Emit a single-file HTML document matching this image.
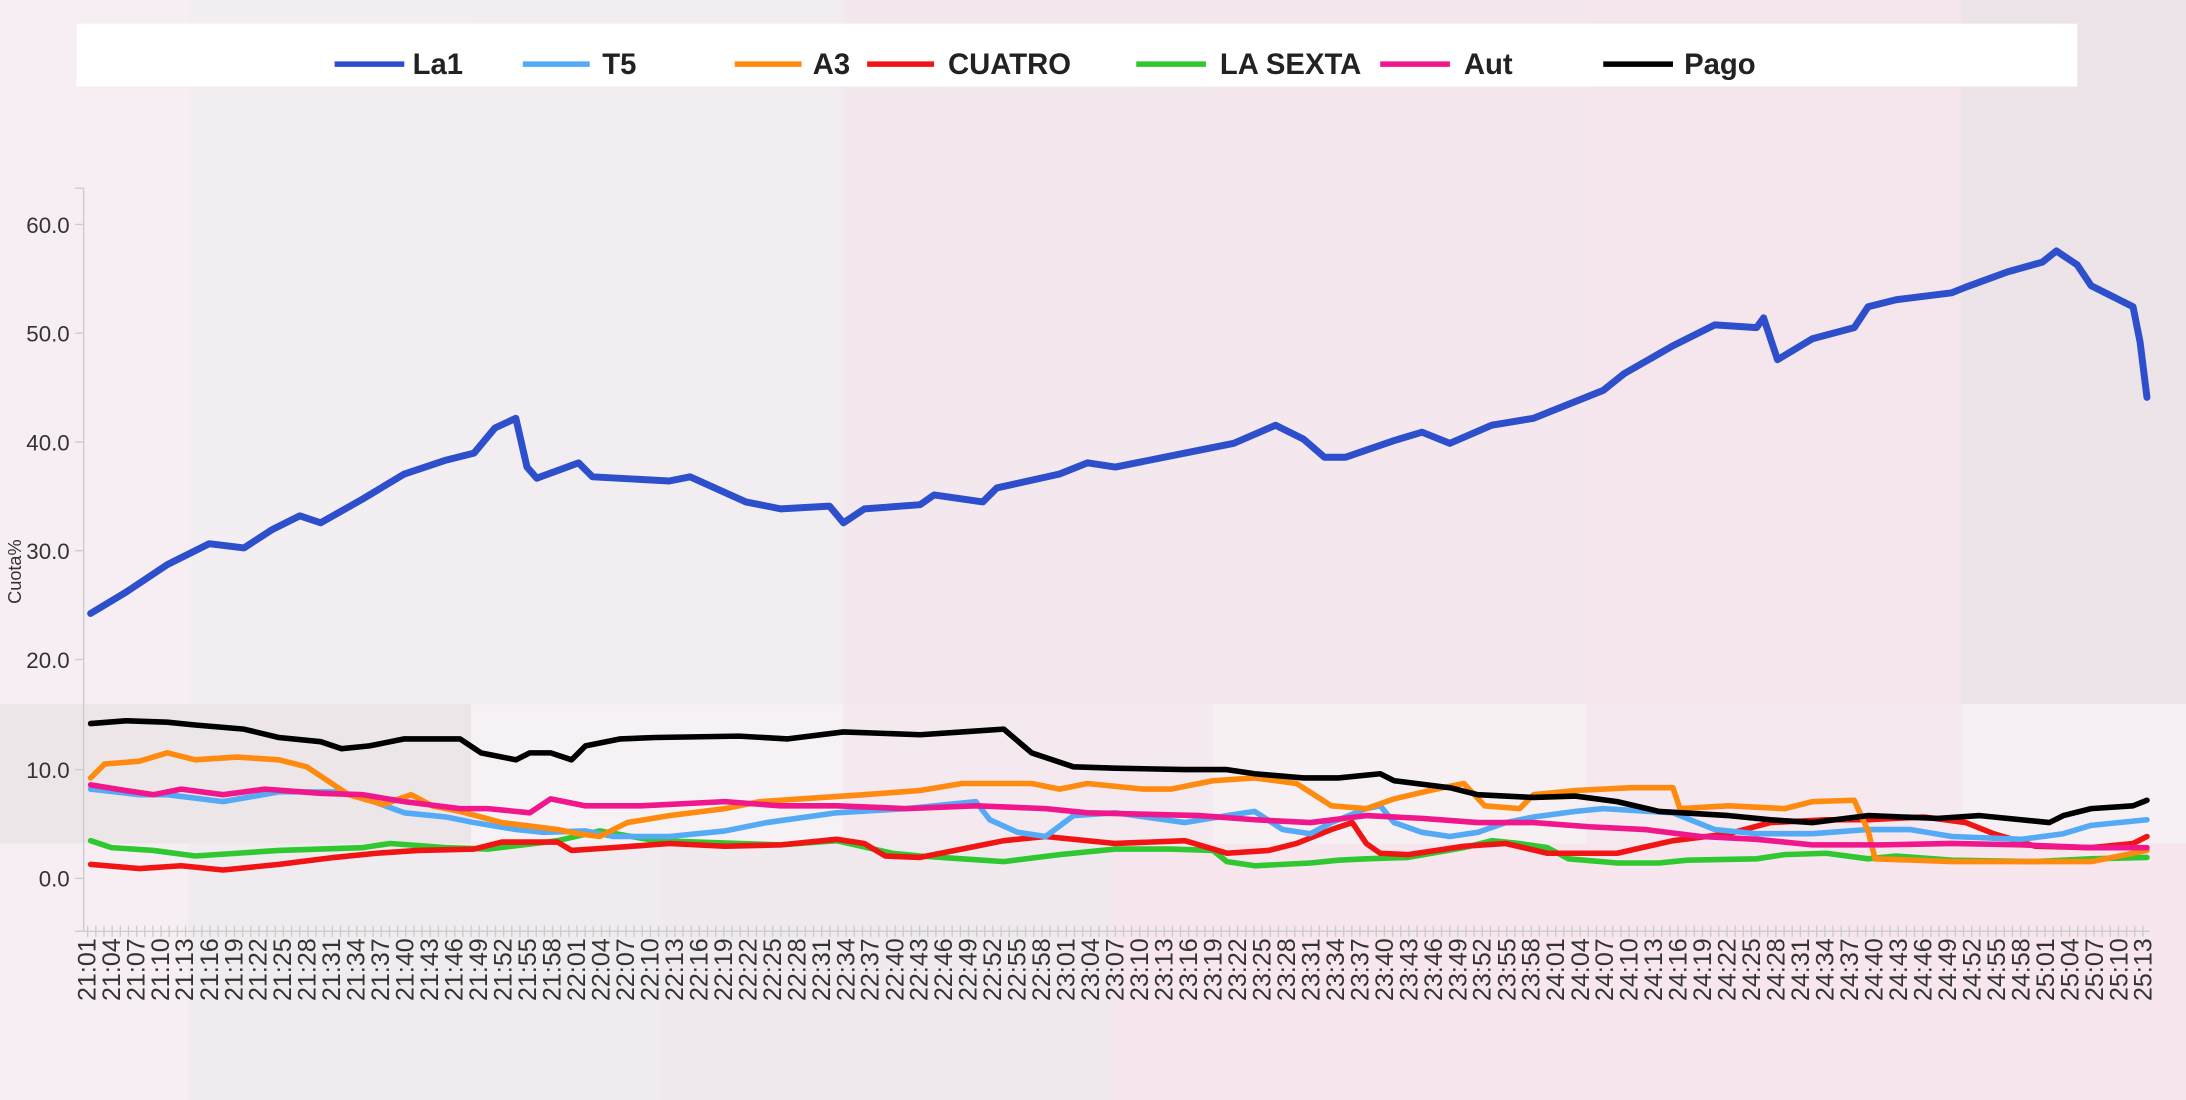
<!DOCTYPE html>
<html><head><meta charset="utf-8"><style>
html,body{margin:0;padding:0;width:2186px;height:1100px;overflow:hidden;background:#f4edf1}
svg{display:block}
text{font-family:"Liberation Sans",sans-serif}
</style></head><body>
<svg width="2186" height="1100" viewBox="0 0 1568 789" preserveAspectRatio="none" xmlns="http://www.w3.org/2000/svg">
<rect x="0" y="0" width="1568" height="789" fill="#f4edf1"/>
<rect x="0" y="0" width="135" height="789" fill="#f7eef3"/>
<rect x="135" y="0" width="203" height="505" fill="#f3eef2"/>
<rect x="338" y="0" width="267" height="505" fill="#f2edf1"/>
<rect x="605" y="0" width="265" height="505" fill="#f3e8ee"/>
<rect x="870" y="0" width="268" height="505" fill="#f5e7ee"/>
<rect x="1138" y="0" width="269" height="505" fill="#f5e6ed"/>
<rect x="1407" y="0" width="161" height="505" fill="#ede4ea"/>
<rect x="0" y="505" width="338" height="100" fill="#ece6e9"/>
<rect x="338" y="505" width="267" height="100" fill="#f6f1f4"/>
<rect x="605" y="505" width="265" height="100" fill="#f3e9ee"/>
<rect x="870" y="505" width="268" height="100" fill="#f7f0f3"/>
<rect x="1138" y="505" width="269" height="100" fill="#f5e8ee"/>
<rect x="1407" y="505" width="161" height="100" fill="#f6f0f4"/>
<rect x="135" y="605" width="338" height="184" fill="#f0ebee"/>
<rect x="473" y="605" width="325" height="184" fill="#f0eaee"/>
<rect x="798" y="605" width="770" height="184" fill="#f7e6ee"/>

<!-- legend -->
<rect x="55" y="17" width="1435" height="45" fill="#ffffff"/>
<g font-size="21" font-weight="bold" fill="#222">
<line x1="240" y1="46" x2="290" y2="46" stroke="#2d4fcc" stroke-width="4"/><text x="296" y="53">La1</text>
<line x1="375" y1="46" x2="423" y2="46" stroke="#55aaf5" stroke-width="4"/><text x="432" y="53">T5</text>
<line x1="527" y1="46" x2="575" y2="46" stroke="#ff8a10" stroke-width="4"/><text x="583" y="53">A3</text>
<line x1="622" y1="46" x2="670" y2="46" stroke="#f01414" stroke-width="4"/><text x="680" y="53">CUATRO</text>
<line x1="815" y1="46" x2="865" y2="46" stroke="#30c830" stroke-width="4"/><text x="875" y="53">LA SEXTA</text>
<line x1="990" y1="46" x2="1040" y2="46" stroke="#f0168c" stroke-width="4"/><text x="1050" y="53">Aut</text>
<line x1="1150" y1="46" x2="1200" y2="46" stroke="#000" stroke-width="4"/><text x="1208" y="53">Pago</text>
</g>

<!-- axes -->
<line x1="60" y1="135" x2="60" y2="668" stroke="#ccc" stroke-width="1"/>
<line x1="60" y1="668" x2="1542" y2="668" stroke="#ccc" stroke-width="1"/>
<g stroke="#ccc"><line x1="54" y1="135" x2="60" y2="135"/><line x1="54" y1="161" x2="60" y2="161"/><line x1="54" y1="239" x2="60" y2="239"/><line x1="54" y1="317" x2="60" y2="317"/><line x1="54" y1="395" x2="60" y2="395"/><line x1="54" y1="473" x2="60" y2="473"/><line x1="54" y1="552" x2="60" y2="552"/><line x1="54" y1="630" x2="60" y2="630"/><line x1="54" y1="668" x2="60" y2="668"/></g>
<g font-size="16" fill="#333" text-anchor="end">
<text x="50" y="167">60.0</text><text x="50" y="245">50.0</text><text x="50" y="323">40.0</text><text x="50" y="401">30.0</text><text x="50" y="479">20.0</text><text x="50" y="558">10.0</text><text x="50" y="636">0.0</text>
</g>
<text transform="translate(15,410) rotate(-90)" font-size="13" fill="#333" text-anchor="middle">Cuota%</text>

<g stroke="#ccc" stroke-dasharray="1,4.85" ><line x1="62.4" y1="668" x2="1540" y2="668" stroke-width="8"/></g>

<g font-size="18" fill="#333" text-anchor="end">
<text transform="translate(68.4,673) rotate(-90)">21:01</text>
<text transform="translate(86.0,673) rotate(-90)">21:04</text>
<text transform="translate(103.5,673) rotate(-90)">21:07</text>
<text transform="translate(121.1,673) rotate(-90)">21:10</text>
<text transform="translate(138.6,673) rotate(-90)">21:13</text>
<text transform="translate(156.2,673) rotate(-90)">21:16</text>
<text transform="translate(173.8,673) rotate(-90)">21:19</text>
<text transform="translate(191.3,673) rotate(-90)">21:22</text>
<text transform="translate(208.9,673) rotate(-90)">21:25</text>
<text transform="translate(226.4,673) rotate(-90)">21:28</text>
<text transform="translate(244.0,673) rotate(-90)">21:31</text>
<text transform="translate(261.6,673) rotate(-90)">21:34</text>
<text transform="translate(279.1,673) rotate(-90)">21:37</text>
<text transform="translate(296.7,673) rotate(-90)">21:40</text>
<text transform="translate(314.2,673) rotate(-90)">21:43</text>
<text transform="translate(331.8,673) rotate(-90)">21:46</text>
<text transform="translate(349.4,673) rotate(-90)">21:49</text>
<text transform="translate(366.9,673) rotate(-90)">21:52</text>
<text transform="translate(384.5,673) rotate(-90)">21:55</text>
<text transform="translate(402.0,673) rotate(-90)">21:58</text>
<text transform="translate(419.6,673) rotate(-90)">22:01</text>
<text transform="translate(437.2,673) rotate(-90)">22:04</text>
<text transform="translate(454.7,673) rotate(-90)">22:07</text>
<text transform="translate(472.3,673) rotate(-90)">22:10</text>
<text transform="translate(489.8,673) rotate(-90)">22:13</text>
<text transform="translate(507.4,673) rotate(-90)">22:16</text>
<text transform="translate(525.0,673) rotate(-90)">22:19</text>
<text transform="translate(542.5,673) rotate(-90)">22:22</text>
<text transform="translate(560.1,673) rotate(-90)">22:25</text>
<text transform="translate(577.6,673) rotate(-90)">22:28</text>
<text transform="translate(595.2,673) rotate(-90)">22:31</text>
<text transform="translate(612.8,673) rotate(-90)">22:34</text>
<text transform="translate(630.3,673) rotate(-90)">22:37</text>
<text transform="translate(647.9,673) rotate(-90)">22:40</text>
<text transform="translate(665.4,673) rotate(-90)">22:43</text>
<text transform="translate(683.0,673) rotate(-90)">22:46</text>
<text transform="translate(700.6,673) rotate(-90)">22:49</text>
<text transform="translate(718.1,673) rotate(-90)">22:52</text>
<text transform="translate(735.7,673) rotate(-90)">22:55</text>
<text transform="translate(753.2,673) rotate(-90)">22:58</text>
<text transform="translate(770.8,673) rotate(-90)">23:01</text>
<text transform="translate(788.4,673) rotate(-90)">23:04</text>
<text transform="translate(805.9,673) rotate(-90)">23:07</text>
<text transform="translate(823.5,673) rotate(-90)">23:10</text>
<text transform="translate(841.0,673) rotate(-90)">23:13</text>
<text transform="translate(858.6,673) rotate(-90)">23:16</text>
<text transform="translate(876.2,673) rotate(-90)">23:19</text>
<text transform="translate(893.7,673) rotate(-90)">23:22</text>
<text transform="translate(911.3,673) rotate(-90)">23:25</text>
<text transform="translate(928.8,673) rotate(-90)">23:28</text>
<text transform="translate(946.4,673) rotate(-90)">23:31</text>
<text transform="translate(964.0,673) rotate(-90)">23:34</text>
<text transform="translate(981.5,673) rotate(-90)">23:37</text>
<text transform="translate(999.1,673) rotate(-90)">23:40</text>
<text transform="translate(1016.6,673) rotate(-90)">23:43</text>
<text transform="translate(1034.2,673) rotate(-90)">23:46</text>
<text transform="translate(1051.8,673) rotate(-90)">23:49</text>
<text transform="translate(1069.3,673) rotate(-90)">23:52</text>
<text transform="translate(1086.9,673) rotate(-90)">23:55</text>
<text transform="translate(1104.4,673) rotate(-90)">23:58</text>
<text transform="translate(1122.0,673) rotate(-90)">24:01</text>
<text transform="translate(1139.6,673) rotate(-90)">24:04</text>
<text transform="translate(1157.1,673) rotate(-90)">24:07</text>
<text transform="translate(1174.7,673) rotate(-90)">24:10</text>
<text transform="translate(1192.2,673) rotate(-90)">24:13</text>
<text transform="translate(1209.8,673) rotate(-90)">24:16</text>
<text transform="translate(1227.4,673) rotate(-90)">24:19</text>
<text transform="translate(1244.9,673) rotate(-90)">24:22</text>
<text transform="translate(1262.5,673) rotate(-90)">24:25</text>
<text transform="translate(1280.0,673) rotate(-90)">24:28</text>
<text transform="translate(1297.6,673) rotate(-90)">24:31</text>
<text transform="translate(1315.2,673) rotate(-90)">24:34</text>
<text transform="translate(1332.7,673) rotate(-90)">24:37</text>
<text transform="translate(1350.3,673) rotate(-90)">24:40</text>
<text transform="translate(1367.8,673) rotate(-90)">24:43</text>
<text transform="translate(1385.4,673) rotate(-90)">24:46</text>
<text transform="translate(1403.0,673) rotate(-90)">24:49</text>
<text transform="translate(1420.5,673) rotate(-90)">24:52</text>
<text transform="translate(1438.1,673) rotate(-90)">24:55</text>
<text transform="translate(1455.6,673) rotate(-90)">24:58</text>
<text transform="translate(1473.2,673) rotate(-90)">25:01</text>
<text transform="translate(1490.8,673) rotate(-90)">25:04</text>
<text transform="translate(1508.3,673) rotate(-90)">25:07</text>
<text transform="translate(1525.9,673) rotate(-90)">25:10</text>
<text transform="translate(1543.4,673) rotate(-90)">25:13</text>
</g>

<g fill="none" stroke-linejoin="round" stroke-linecap="round" stroke-width="4">
<polyline stroke="#30c830" points="65,603 80,608 110,610 140,614 170,612 200,610 260,608 280,605 320,608 350,609 400,603 430,596 470,603 500,604 560,606 600,603 640,612 660,614 690,616 720,618 760,613 800,609 840,609 870,610 880,618 900,621 940,619 960,617 980,616 1010,615 1050,608 1070,603 1090,605 1110,608 1125,616 1160,619 1190,619 1210,617 1260,616 1280,613 1310,612 1340,616 1360,614 1400,617 1460,618 1500,616 1540,615"/>
<polyline stroke="#f01414" points="65,620 100,623 130,621 160,624 200,620 240,615 270,612 300,610 340,609 360,604 400,604 410,610 440,608 480,605 520,607 560,606 600,602 620,605 635,614 660,615 700,607 720,603 750,600 800,605 850,603 880,612 910,610 930,605 955,595 970,590 980,605 990,612 1010,613 1050,607 1080,605 1110,612 1160,612 1200,603 1240,598 1270,590 1310,588 1340,588 1380,586 1410,590 1430,598 1460,607 1500,608 1530,605 1540,600"/>
<polyline stroke="#55aaf5" points="65,566 100,570 120,570 160,575 200,568 240,568 260,572 290,583 320,586 340,590 370,595 390,597 420,596 440,600 480,600 520,596 550,590 600,583 650,580 700,575 710,588 730,597 750,600 770,585 800,583 850,590 880,585 900,582 920,595 940,598 955,590 980,580 990,578 1000,590 1020,597 1040,600 1060,597 1080,590 1100,586 1130,582 1150,580 1200,583 1230,595 1260,598 1300,598 1340,595 1370,595 1400,600 1450,602 1480,598 1500,592 1540,588"/>
<polyline stroke="#ff8a10" points="65,558 75,548 100,546 120,540 140,545 170,543 200,545 220,550 235,560 250,570 275,577 295,570 310,578 330,582 360,590 400,595 415,598 430,600 450,590 480,585 520,580 545,575 590,572 620,570 660,567 690,562 740,562 760,566 780,562 820,566 840,566 870,560 900,558 930,562 955,578 980,580 1000,573 1030,566 1050,562 1065,578 1090,580 1100,570 1130,567 1170,565 1200,565 1205,580 1240,578 1280,580 1300,575 1330,574 1340,596 1345,616 1400,618 1500,618 1540,610"/>
<polyline stroke="#f0168c" points="65,563 90,567 110,570 130,566 160,570 190,566 230,569 260,570 290,575 330,580 350,580 380,583 395,573 420,578 460,578 520,575 560,578 600,578 650,580 700,578 750,580 780,583 820,584 860,585 900,588 940,590 980,585 1020,587 1060,590 1100,590 1140,593 1180,595 1220,600 1260,602 1300,606 1350,606 1400,605 1450,606 1500,608 1540,608"/>
<polyline stroke="#000" points="65,519 90,517 120,518 140,520 175,523 200,529 230,532 245,537 265,535 290,530 330,530 345,540 370,545 380,540 395,540 410,545 420,535 445,530 470,529 530,528 565,530 605,525 660,527 690,525 720,523 740,540 770,550 800,551 850,552 880,552 900,555 935,558 960,558 990,555 1000,560 1040,565 1060,570 1100,572 1130,571 1160,575 1190,582 1240,585 1270,588 1300,590 1340,585 1390,587 1420,585 1470,590 1480,585 1500,580 1530,578 1540,574"/>
<polyline stroke="#2d4fcc" stroke-width="5" points="65,440 90,425 120,405 150,390 175,393 195,380 215,370 230,375 260,358 290,340 320,330 340,325 355,307 370,300 378,335 385,343 415,332 425,342 480,345 495,342 535,360 560,365 595,363 605,375 620,365 660,362 670,355 705,360 715,350 760,340 780,332 800,335 850,325 885,318 915,305 935,315 950,328 965,328 1000,316 1020,310 1040,318 1070,305 1100,300 1150,280 1165,268 1200,248 1230,233 1260,235 1265,228 1275,258 1300,243 1330,235 1340,220 1360,215 1400,210 1410,206 1440,195 1465,188 1475,180 1490,190 1500,205 1530,220 1535,245 1540,285"/>
</g>
</svg>
</body></html>
